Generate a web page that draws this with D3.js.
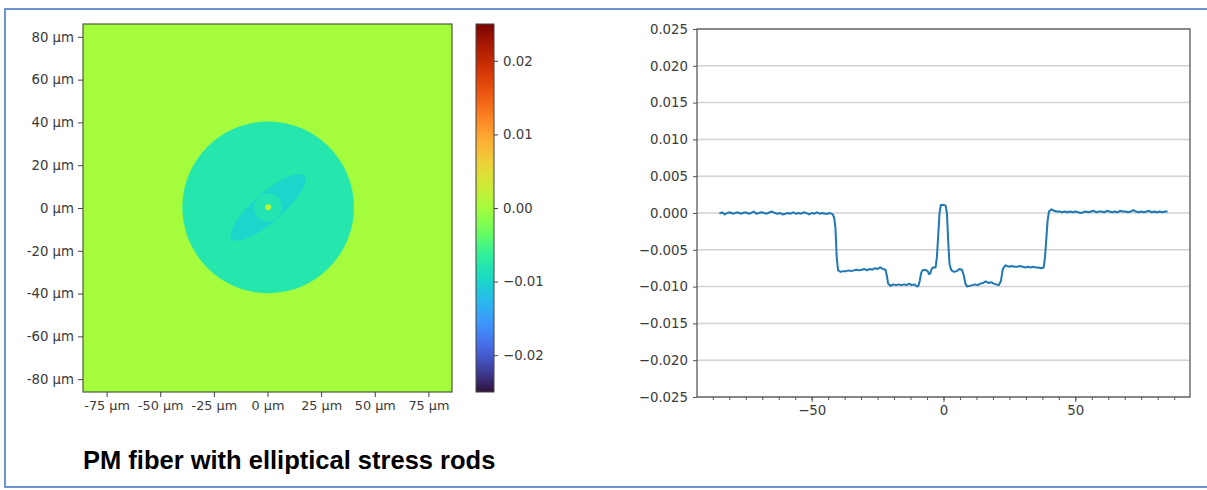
<!DOCTYPE html>
<html>
<head>
<meta charset="utf-8">
<script src="https://cdn.jsdelivr.net/npm/d3@7"></script>
<style>
	body { margin: 0; background: #fff; }
	.tick-label { font-family: "DejaVu Sans", sans-serif; font-size: 13.3px; fill: #3a3a3a; }
</style>
</head>
<body>
<div id="chart"></div>
<script>
// ---- data ----
// left panel: map of the fiber cross-section, values in the colour scale
var heatXTicks = [-75, -50, -25, 0, 25, 50, 75];
var heatYTicks = [80, 60, 40, 20, 0, -20, -40, -60, -80];
var cbarTicks = [0.02, 0.01, 0.00, -0.01, -0.02];
var backgroundValue = 0.0;
// layers drawn from outside in: cladding, stress rod, ring, core
var layerNames = ["cladding", "stress rod", "ring", "core"];
var layerRx = [40, 22.4, 6.5, 1.4];    // µm
var layerRy = [40, 6.8, 6.5, 1.4];     // µm
var layerAngle = [0, -41, 0, 0];       // deg
var layerValue = [-0.0078, -0.0099, -0.0081, 0.0012];

// colour map stops (turbo, as matplotlib draws it)
var turboStops = ["#30123b", "#4041a2", "#466ce6", "#3f96fc", "#28bbec", "#18dcc3",
	"#32f198", "#6ffe5c", "#a4fc3c", "#d0ea34", "#eecf3a", "#fdac34", "#fb8022",
	"#eb560f", "#d23405", "#ad1b01", "#7a0403"];

// right panel: line profile through the centre
var profileX = [-85, -84, -83, -82, -81, -80, -79, -78, -77, -76, -75, -74, -73, -72, -71, -70,
	-69, -68, -67, -66, -65, -64, -63, -62, -61, -60, -59, -58, -57, -56, -55, -54, -53, -52, -51,
	-50, -49, -48, -47, -46, -45, -44, -43, -42, -41.5, -41, -40.5, -40, -39, -38, -37, -36, -35,
	-34, -33, -32, -31, -30, -29, -28, -27, -26, -25, -24, -23, -22, -21.5, -21, -20, -19, -18,
	-17, -16, -15, -14, -13, -12, -11, -10, -9.5, -9, -8.5, -8, -7, -6, -5.5, -5, -4.5, -4, -3,
	-2.5, -2, -1.5, -1, 0, 0.8, 1.3, 1.8, 2.3, 3, 4, 5, 6, 7, 7.7, 8.3, 9, 10, 11, 12, 13, 14, 15,
	16, 17, 18, 19, 20, 21, 21.8, 22.5, 23.5, 24, 25, 26, 27, 28, 29, 30, 31, 32, 33, 34, 35, 36,
	37, 38, 38.5, 39, 39.5, 40, 41, 42, 43, 44, 45, 46, 47, 48, 49, 50, 51, 52, 53, 54, 55, 56, 57,
	58, 59, 60, 61, 62, 63, 64, 65, 66, 67, 68, 69, 70, 71, 72, 73, 74, 75, 76, 77, 78, 79, 80, 81,
	82, 83, 84, 85];
var profileY = [-0.0001, 0.0001, -0.0002, 0.0000, 0.0001, -0.0001, 0.0000, 0.0001, -0.0001, 0.0000,
	0.0001, -0.0001, 0.0000, 0.0002, -0.0001, 0.0000, 0.0001, 0.0000, -0.0001, 0.0001, 0.0002,
	0.0000, -0.0001, 0.0000, -0.0002, -0.0001, 0.0000, -0.0001, 0.0001, -0.0001, 0.0000, -0.0001,
	0.0001, 0.0000, -0.0002, 0.0000, -0.0001, 0.0001, -0.0001, 0.0000, -0.0001, -0.0001, 0.0000,
	-0.0002, -0.0006, -0.0020, -0.0060, -0.0078, -0.0080, -0.0079, -0.0079, -0.0078, -0.0079,
	-0.0078, -0.0077, -0.0078, -0.0077, -0.0076, -0.0078, -0.0076, -0.0077, -0.0075, -0.0076,
	-0.0074, -0.0076, -0.0077, -0.0085, -0.0096, -0.0099, -0.0097, -0.0098, -0.0097, -0.0098,
	-0.0097, -0.0098, -0.0096, -0.0098, -0.0097, -0.0100, -0.0099, -0.0092, -0.0082, -0.0078,
	-0.0077, -0.0079, -0.0083, -0.0082, -0.0076, -0.0074, -0.0074, -0.0060, -0.0030, 0.0000,
	0.0011, 0.0011, 0.0010, 0.0000, -0.0040, -0.0070, -0.0078, -0.0080, -0.0079, -0.0076, -0.0077,
	-0.0085, -0.0096, -0.0100, -0.0099, -0.0098, -0.0097, -0.0098, -0.0096, -0.0095, -0.0093,
	-0.0095, -0.0094, -0.0096, -0.0097, -0.0098, -0.0092, -0.0076, -0.0071, -0.0072, -0.0073,
	-0.0072, -0.0073, -0.0073, -0.0072, -0.0073, -0.0074, -0.0073, -0.0074, -0.0073, -0.0074,
	-0.0074, -0.0075, -0.0074, -0.0060, -0.0035, -0.0010, 0.0002, 0.0005, 0.0003, 0.0002, 0.0002,
	0.0001, 0.0002, 0.0001, 0.0002, 0.0001, 0.0002, 0.0001, 0.0000, 0.0001, 0.0002, 0.0001,
	0.0002, 0.0003, 0.0001, 0.0002, 0.0002, 0.0001, 0.0003, 0.0002, 0.0001, 0.0002, 0.0001,
	0.0003, 0.0002, 0.0002, 0.0001, 0.0002, 0.0004, 0.0002, 0.0001, 0.0002, 0.0001, 0.0002,
	0.0003, 0.0001, 0.0002, 0.0001, 0.0002, 0.0001, 0.0002, 0.0002];
var profileYTicks = [0.025, 0.020, 0.015, 0.010, 0.005, 0.000, -0.005, -0.010, -0.015, -0.020, -0.025];
var profileXTicks = [-50, 0, 50];

var titleText = "PM fiber with elliptical stress rods";

drawChart()

function drawChart() {
	var svgWidth = 1207;
	var svgHeight = 490;

	var svg = d3.select("#chart")
		.append("svg")
		.attr("width", svgWidth)
		.attr("height", svgHeight);

	// blue frame round the slide
	svg.append("rect")
		.attr("x", 5)
		.attr("y", 9)
		.attr("width", 1220)
		.attr("height", 478)
		.style("fill", "#fff")
		.style("stroke", "#4a78cc")
		.style("stroke-width", 1.6);

	var color = d3.scaleLinear()
		.domain(d3.range(turboStops.length).map(i => -0.025 + i * 0.05 / (turboStops.length - 1)))
		.range(turboStops)
		.interpolate(d3.interpolateRgb)
		.clamp(true);
	var minus = function(s) { return s.replace("-", "\u2212"); };

	// ---------- left: cross-section map ----------
	var hx = d3.scaleLinear().domain([-86, 86]).range([83, 452]);
	var hy = d3.scaleLinear().domain([-86, 86]).range([392, 24]);

	svg.append("clipPath")
		.attr("id", "heatclip")
		.append("rect")
		.attr("x", hx(-86))
		.attr("y", hy(86))
		.attr("width", hx(86) - hx(-86))
		.attr("height", hy(-86) - hy(86));

	var heat = svg.append("g").attr("clip-path", "url(#heatclip)");
	heat.append("rect")
		.attr("x", hx(-86))
		.attr("y", hy(86))
		.attr("width", hx(86) - hx(-86))
		.attr("height", hy(-86) - hy(86))
		.style("fill", color(backgroundValue));

	heat.selectAll("ellipse.layer")
		.data(layerNames)
		.join("ellipse")
		.attr("class", "layer")
		.attr("transform", (d, i) => `translate(${hx(0.3)},${hy(0.3)}) rotate(${layerAngle[i]})`)
		.attr("rx", (d, i) => hx(layerRx[i]) - hx(0))
		.attr("ry", (d, i) => hx(layerRy[i]) - hx(0))
		.style("fill", (d, i) => color(layerValue[i]));

	svg.append("rect")
		.attr("x", hx(-86))
		.attr("y", hy(86))
		.attr("width", hx(86) - hx(-86))
		.attr("height", hy(-86) - hy(86))
		.style("fill", "none")
		.style("stroke", "#4d5a40")
		.style("stroke-width", 1.2);

	var hxAxis = svg.append("g")
		.attr("transform", `translate(0,${hy(-86)})`)
		.call(d3.axisBottom(hx).tickValues(heatXTicks).tickSize(5).tickPadding(4)
			.tickFormat(d => d + " \u00b5m"));
	var hyAxis = svg.append("g")
		.attr("transform", `translate(${hx(-86)},0)`)
		.call(d3.axisLeft(hy).tickValues(heatYTicks).tickSize(5).tickPadding(4)
			.tickFormat(d => d + " \u00b5m"));
	[hxAxis, hyAxis].forEach(function(a) {
		a.select(".domain").remove();
		a.selectAll("line").style("stroke", "#444");
		a.selectAll("text").attr("class", "tick-label");
	});
	hxAxis.selectAll("text").style("font-size", "12.8px");

	// colour bar
	var cy = d3.scaleLinear().domain([-0.025, 0.025]).range([392, 24]);
	var grad = svg.append("defs").append("linearGradient")
		.attr("id", "cbar")
		.attr("x1", 0).attr("y1", 1).attr("x2", 0).attr("y2", 0);
	grad.selectAll("stop")
		.data(d3.range(0, 1.0001, 0.025))
		.join("stop")
		.attr("offset", d => d)
		.attr("stop-color", d => color(-0.025 + d * 0.05));
	svg.append("rect")
		.attr("x", 476)
		.attr("y", cy(0.025))
		.attr("width", 18)
		.attr("height", cy(-0.025) - cy(0.025))
		.style("fill", "url(#cbar)")
		.style("stroke", "#444")
		.style("stroke-width", 1);
	var cAxis = svg.append("g")
		.attr("transform", `translate(494,0)`)
		.call(d3.axisRight(cy).tickValues(cbarTicks).tickSize(4).tickPadding(5)
			.tickFormat(d => minus(d3.format(".2f")(d))));
	cAxis.select(".domain").remove();
	cAxis.selectAll("line").style("stroke", "#444");
	cAxis.selectAll("text").attr("class", "tick-label");

	// title
	svg.append("text")
		.attr("x", 83)
		.attr("y", 469)
		.style("font-family", "Liberation Sans, Arial, sans-serif")
		.style("font-weight", "bold")
		.style("font-size", "25.5px")
		.style("fill", "#000")
		.text(titleText);

	// ---------- right: profile ----------
	var px = d3.scaleLinear().domain([-93.5, 93.5]).range([697, 1190]);
	var py = d3.scaleLinear().domain([-0.025, 0.025]).range([397, 29]);

	svg.append("g")
		.selectAll("line")
		.data(profileYTicks)
		.join("line")
		.attr("x1", px(-93.5))
		.attr("x2", px(93.5))
		.attr("y1", d => py(d))
		.attr("y2", d => py(d))
		.style("stroke", "#d2d2d2")
		.style("stroke-width", 1.5);

	var line = d3.line()
		.x((d, i) => px(profileX[i]))
		.y(d => py(d));
	svg.append("path")
		.datum(profileY)
		.attr("d", line)
		.style("fill", "none")
		.style("stroke", "#1f77b4")
		.style("stroke-width", 2)
		.style("stroke-linejoin", "round");

	svg.append("rect")
		.attr("x", px(-93.5))
		.attr("y", py(0.025))
		.attr("width", px(93.5) - px(-93.5))
		.attr("height", py(-0.025) - py(0.025))
		.style("fill", "none")
		.style("stroke", "#5a5a5a")
		.style("stroke-width", 1.3);

	var pyAxis = svg.append("g")
		.attr("transform", `translate(${px(-93.5)},0)`)
		.call(d3.axisLeft(py).tickValues(profileYTicks).tickSize(4).tickPadding(5)
			.tickFormat(d => minus(d3.format(".3f")(d))));
	var pxMinor = svg.append("g")
		.attr("transform", `translate(0,${py(-0.025)})`)
		.call(d3.axisBottom(px).tickValues(d3.range(-87.5, 88, 6.25)).tickSize(3).tickFormat(""));
	var pxAxis = svg.append("g")
		.attr("transform", `translate(0,${py(-0.025)})`)
		.call(d3.axisBottom(px).tickValues(profileXTicks).tickSize(5).tickPadding(4)
			.tickFormat(d => minus(String(d))));
	[pyAxis, pxMinor, pxAxis].forEach(function(a) {
		a.select(".domain").remove();
		a.selectAll("line").style("stroke", "#555");
		a.selectAll("text").attr("class", "tick-label");
	});
}
</script>
</body>
</html>
